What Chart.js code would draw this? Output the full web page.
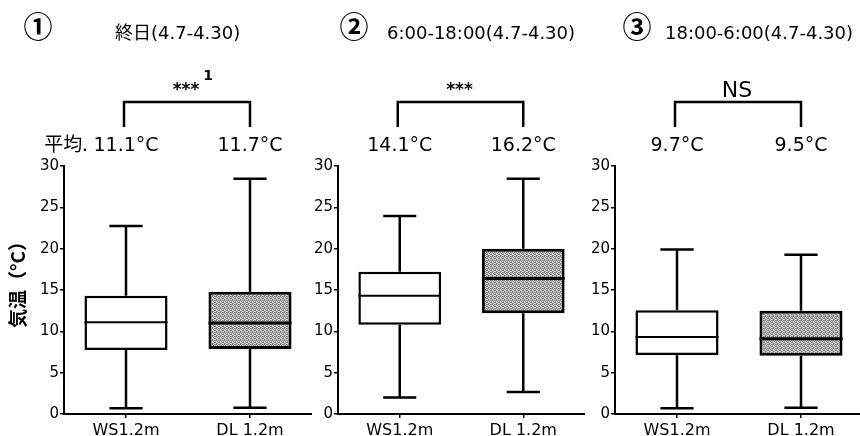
<!DOCTYPE html>
<html>
<head>
<meta charset="utf-8">
<script src="https://cdn.jsdelivr.net/npm/chart.js@4.4.1/dist/chart.umd.min.js"></script>
<style>
  html, body { margin: 0; padding: 0; background: #fff; overflow: hidden; }
  #wrap { position: relative; width: 860px; height: 436px; }
  canvas { position: absolute; top: 0; }
</style>
</head>
<body>
<div id="wrap"></div>
<script>
// data
const categories = ['WS1.2m', 'DL 1.2m'];
const panelMarks = ['\u2460', '\u2461', '\u2462'];
const panelTitles = ['終日(4.7-4.30)', '6:00-18:00(4.7-4.30)', '18:00-6:00(4.7-4.30)'];
const whiskerMin = [[0.7, 0.75], [2.0, 2.65], [0.7, 0.75]];
const quart1 = [[7.75, 7.85], [10.8, 12.2], [7.15, 7.05]];
const medians = [[11.1, 11.0], [14.3, 16.4], [9.3, 9.1]];
const quart3 = [[14.3, 14.8], [17.2, 20.0], [12.55, 12.5]];
const whiskerMax = [[22.75, 28.45], [23.95, 28.45], [19.9, 19.25]];
const meanLabels = [['11.1°C', '11.7°C'], ['14.1°C', '16.2°C'], ['9.7°C', '9.5°C']];
const meanPrefix = '平均.';
const significance = ['***', '***', 'NS'];
const sigNotes = ['1', '', ''];
const yMin = 0, yMax = 30, yStep = 5;
const yTitle = '気温（°C）';

// layout of the three panels (page pixels)
const panelLeft = [0, 312, 585];
const panelRight = [312, 585, 863];
const axisX = [64, 338, 615];
const markX = [38, 354, 637];
const titleX = [115, 387, 665];

const latin = '"DejaVu Sans", "Noto Sans CJK JP", sans-serif';
const cjk = '"Noto Sans CJK JP", "DejaVu Sans", sans-serif';

// stippled grey fill like the original
function makeStipple() {
  const c = document.createElement('canvas');
  c.width = 4; c.height = 4;
  const g = c.getContext('2d');
  g.fillStyle = '#d4d4d4';
  g.fillRect(0, 0, 4, 4);
  g.fillStyle = '#7a7a7a';
  [[0,0],[2,0],[1,1],[3,2],[0,3],[2,2]].forEach(function(d) { g.fillRect(d[0], d[1], 1, 1); });
  g.fillStyle = '#a0a0a0';
  [[3,0],[1,3],[3,1]].forEach(function(d) { g.fillRect(d[0], d[1], 1, 1); });
  return g.createPattern(c, 'repeat');
}
const stipple = makeStipple();

function makePanel(p) {
  const canvas = document.createElement('canvas');
  const w = panelRight[p] - panelLeft[p];
  canvas.width = w;
  canvas.height = 436;
  canvas.style.left = panelLeft[p] + 'px';
  document.getElementById('wrap').appendChild(canvas);
  const off = panelLeft[p];

  // whiskers and medians
  const boxPlugin = {
    id: 'boxWhisker' + p,
    afterDatasetsDraw: function(chart) {
      const ctx = chart.ctx;
      const y = chart.scales.y;
      const bars = chart.getDatasetMeta(0).data;
      ctx.save();
      ctx.strokeStyle = '#000';
      bars.forEach(function(bar, i) {
        const cx = bar.x;
        const half = bar.width / 2;
        const cap = bar.width * 0.2;
        ctx.lineWidth = 2.5;
        ctx.beginPath();
        ctx.moveTo(cx, y.getPixelForValue(quart3[p][i]));
        ctx.lineTo(cx, y.getPixelForValue(whiskerMax[p][i]));
        ctx.moveTo(cx - cap, y.getPixelForValue(whiskerMax[p][i]));
        ctx.lineTo(cx + cap, y.getPixelForValue(whiskerMax[p][i]));
        ctx.moveTo(cx, y.getPixelForValue(quart1[p][i]));
        ctx.lineTo(cx, y.getPixelForValue(whiskerMin[p][i]));
        ctx.moveTo(cx - cap, y.getPixelForValue(whiskerMin[p][i]));
        ctx.lineTo(cx + cap, y.getPixelForValue(whiskerMin[p][i]));
        ctx.stroke();
        ctx.lineWidth = i === 1 ? 3 : 2;
        ctx.beginPath();
        ctx.moveTo(cx - half, y.getPixelForValue(medians[p][i]));
        ctx.lineTo(cx + half, y.getPixelForValue(medians[p][i]));
        ctx.stroke();
      });
      ctx.restore();
    }
  };

  // headers, bracket, means, axis title
  const notePlugin = {
    id: 'notes' + p,
    afterDraw: function(chart) {
      const ctx = chart.ctx;
      const x = chart.scales.x;
      const c0 = x.getPixelForValue(0), c1 = x.getPixelForValue(1);
      ctx.save();
      ctx.fillStyle = '#000';
      ctx.strokeStyle = '#000';

      ctx.font = 'bold 29px ' + cjk;
      ctx.textAlign = 'center';
      ctx.textBaseline = 'middle';
      ctx.fillText(panelMarks[p], markX[p] - off, 27);

      ctx.font = '18px ' + latin;
      ctx.textAlign = 'left';
      ctx.textBaseline = 'alphabetic';
      ctx.fillText(panelTitles[p], titleX[p] - off, 39);

      ctx.lineWidth = 2.5;
      ctx.beginPath();
      ctx.moveTo(c0 - 2, 127);
      ctx.lineTo(c0 - 2, 102);
      ctx.lineTo(c1, 102);
      ctx.lineTo(c1, 127);
      ctx.stroke();

      const mid = (c0 + c1) / 2 - 2;
      ctx.textAlign = 'center';
      if (significance[p] === 'NS') {
        ctx.font = '22px ' + latin;
        ctx.fillText(significance[p], mid, 97);
      } else {
        ctx.font = 'bold 17px ' + latin;
        ctx.fillText(significance[p], mid, 95);
        if (sigNotes[p]) {
          const sw = ctx.measureText(significance[p]).width;
          ctx.font = 'bold 14px ' + latin;
          ctx.textAlign = 'left';
          ctx.fillText(sigNotes[p], mid + sw / 2 + 4, 80);
        }
      }

      ctx.font = '19px ' + latin;
      ctx.textAlign = 'center';
      [c0, c1].forEach(function(cx, i) {
        ctx.fillText(meanLabels[p][i], cx, 151);
      });
      if (p === 0) {
        const lw = ctx.measureText(meanLabels[p][0]).width;
        ctx.font = '19px ' + cjk;
        ctx.textAlign = 'right';
        ctx.fillText(meanPrefix, c0 - lw / 2 - 6, 151);

        ctx.translate(18, 280);
        ctx.rotate(-Math.PI / 2);
        ctx.font = 'bold 19px ' + cjk;
        ctx.textAlign = 'center';
        ctx.textBaseline = 'middle';
        ctx.fillText(yTitle, 0, 0);
      }
      ctx.restore();
    }
  };

  new Chart(canvas.getContext('2d'), {
    type: 'bar',
    data: {
      labels: categories,
      datasets: [{
        data: categories.map(function(c, i) { return [quart1[p][i], quart3[p][i]]; }),
        backgroundColor: ['#ffffff', stipple],
        borderColor: '#000',
        borderWidth: [2.5, 3],
        borderSkipped: false,
        barPercentage: 0.67,
        categoryPercentage: 1
      }]
    },
    options: {
      responsive: false,
      animation: false,
      events: [],
      layout: { padding: { top: 166, left: 0, right: 0, bottom: 0 } },
      plugins: { legend: { display: false }, tooltip: { enabled: false } },
      scales: {
        x: {
          offset: true,
          grid: { offset: false, drawOnChartArea: false, drawTicks: true, tickLength: 4, color: '#000', lineWidth: 1.5 },
          border: { color: '#000', width: 2 },
          ticks: { color: '#000', font: { family: latin, size: 16 }, padding: 3, maxRotation: 0 },
          afterFit: function(s) { s.height = 22; }
        },
        y: {
          min: yMin,
          max: yMax,
          grid: { drawOnChartArea: false, drawTicks: true, tickLength: 4, color: '#000', lineWidth: 1.5 },
          border: { color: '#000', width: 2 },
          ticks: { stepSize: yStep, color: '#000', font: { family: latin, size: 15 }, padding: 1 },
          afterFit: function(s) { s.width = axisX[p] - panelLeft[p]; }
        }
      }
    },
    plugins: [boxPlugin, notePlugin]
  });
}

[0, 1, 2].forEach(makePanel);
</script>
</body>
</html>
